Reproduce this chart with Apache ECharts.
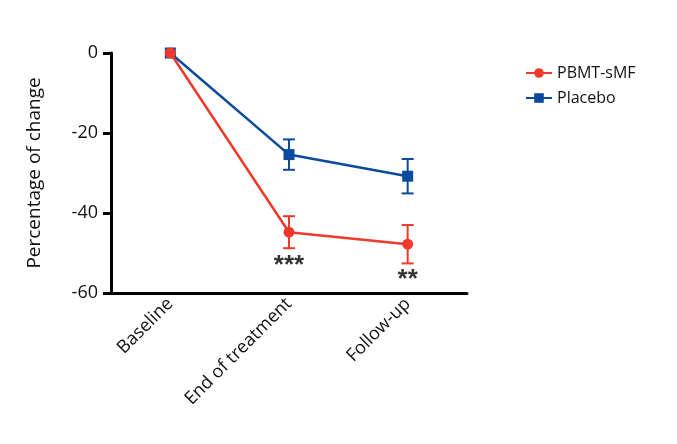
<!DOCTYPE html>
<html>
<head>
<meta charset="utf-8">
<script src="https://cdn.jsdelivr.net/npm/echarts@6/dist/echarts.min.js"></script>
<style>html,body{margin:0;padding:0;background:#fff}#c{width:677px;height:444px}</style>
</head>
<body>
<div id="c"></div>
<script>
var categories = ['Baseline', 'End of treatment', 'Follow-up'];
var pbmtMean = [0, -44.8, -47.8];
var pbmtErr = [0, 4.0, 4.8];
var placeboMean = [0, -25.4, -30.8];
var placeboErr = [0, 3.8, 4.3];
var sigLabels = ['', '***', '**'];
var sigY = [null, -52.6, -56.3];

var RED = '#EE3A2A', BLUE = '#0B4A9C';

function errSeries(name, mean, err, color, z) {
  var data = mean.map(function (m, i) { return [i, m - err[i], m + err[i]]; });
  return {
    type: 'custom', name: name + '-err', z: z, silent: true,
    data: data,
    renderItem: function (params, api) {
      if (api.value(2) === api.value(1)) return null;
      var lo = api.coord([api.value(0), api.value(1)]);
      var hi = api.coord([api.value(0), api.value(2)]);
      var hw = 6;
      var st = { stroke: color, lineWidth: 2 };
      return { type: 'group', children: [
        { type: 'line', shape: { x1: lo[0], y1: lo[1], x2: hi[0], y2: hi[1] }, style: st },
        { type: 'line', shape: { x1: lo[0] - hw, y1: lo[1], x2: lo[0] + hw, y2: lo[1] }, style: st },
        { type: 'line', shape: { x1: hi[0] - hw, y1: hi[1], x2: hi[0] + hw, y2: hi[1] }, style: st }
      ]};
    }
  };
}

var chart = echarts.init(document.getElementById('c'));
chart.setOption({
  animation: false,
  textStyle: { fontFamily: 'Open Sans' },
  grid: { left: 111, right: 210, top: 53, bottom: 151 },
  legend: {
    data: ['PBMT-sMF', 'Placebo'],
    orient: 'vertical', left: 520, top: 60, itemGap: 9,
    itemWidth: 26, itemHeight: 12,
    textStyle: { fontSize: 16, color: '#111', fontFamily: 'Open Sans' }
  },
  xAxis: {
    type: 'category', data: categories, boundaryGap: true,
    axisLine: { onZero: false, lineStyle: { color: '#000', width: 3 } },
    axisTick: { alignWithLabel: true, length: 8, lineStyle: { color: '#000', width: 3 } },
    axisLabel: { rotate: 45, fontSize: 18, color: '#111', margin: 8, fontFamily: 'Open Sans' }
  },
  yAxis: {
    type: 'value', min: -60, max: 0, interval: 20,
    name: 'Percentage of change', nameLocation: 'middle', nameGap: 67,
    nameTextStyle: { fontSize: 19, color: '#111', fontFamily: 'Open Sans' },
    splitLine: { show: false },
    axisLine: { show: true, lineStyle: { color: '#000', width: 3 } },
    axisTick: { show: true, length: 8, lineStyle: { color: '#000', width: 3 } },
    axisLabel: { fontSize: 18, color: '#111', margin: 13, fontFamily: 'Open Sans' }
  },
  series: [
    errSeries('Placebo', placeboMean, placeboErr, BLUE, 2),
    errSeries('PBMT-sMF', pbmtMean, pbmtErr, RED, 3),
    { name: 'Placebo', type: 'line', data: placeboMean, z: 4,
      symbol: 'rect', symbolSize: 11, color: BLUE,
      lineStyle: { color: BLUE, width: 2.5 }, itemStyle: { color: BLUE } },
    { name: 'PBMT-sMF', type: 'line', data: pbmtMean, z: 5,
      symbol: 'circle', symbolSize: 11, color: RED,
      lineStyle: { color: RED, width: 2.5 }, itemStyle: { color: RED } },
    { name: 'sig', type: 'scatter', symbolSize: 0, z: 6, silent: true,
      data: sigY.map(function (v, i) { return { value: [i, v], label: { formatter: sigLabels[i] } }; }),
      label: { show: true, position: 'inside', fontSize: 26, fontWeight: 900, color: '#000', fontFamily: 'Liberation Sans', offset: [0, 2] } }
  ]
});
</script>
</body>
</html>
